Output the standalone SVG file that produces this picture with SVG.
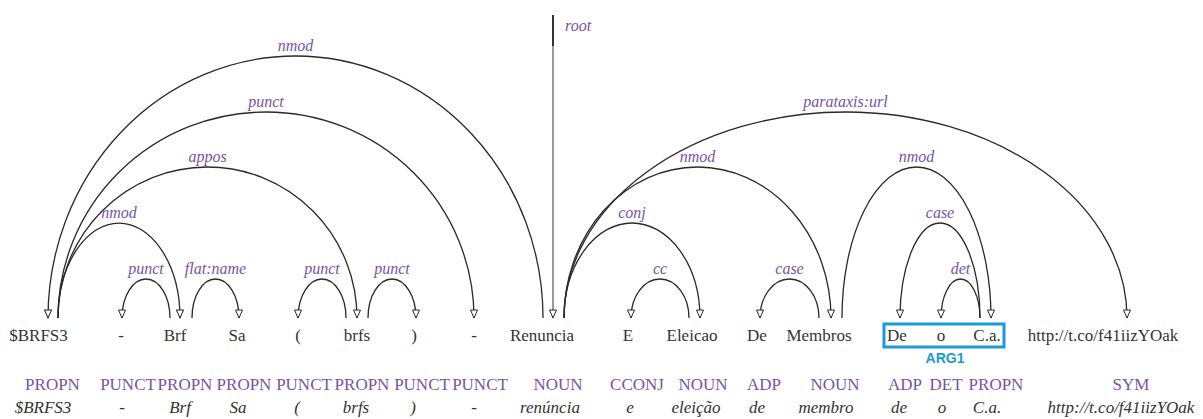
<svg xmlns="http://www.w3.org/2000/svg" width="1203" height="419" viewBox="0 0 1203 419" font-family="Liberation Serif">
<style>
.w{font-size:17px;fill:#333;text-anchor:middle}
.p{font-size:17px;fill:#7a52a5;text-anchor:middle}
.l{font-size:17px;font-style:italic;fill:#333;text-anchor:middle}
.a{fill:none;stroke:#2a2a2a;stroke-width:1.3;marker-end:url(#ah)}
.lb{font-size:16px;font-style:italic;fill:#7a52a5;text-anchor:middle}
</style>
<defs>
<marker id="ah" markerUnits="userSpaceOnUse" viewBox="0 0 9 8" markerWidth="9" markerHeight="8" refX="8" refY="4" orient="auto" overflow="visible">
<path d="M0,0.5 L8,4 L0,7.5 Z" fill="#fff" stroke="#2a2a2a" stroke-width="1"/>
</marker>
</defs>
<rect width="1203" height="419" fill="#fff"/>
<g id="connectors">
<path class="a" d="M543,318 A247.5,262 0 0 0 48,318"/>
<path class="a" d="M58,318 A208,206 0 0 1 474,318"/>
<path class="a" d="M58,318 A149.5,151 0 0 1 357,318"/>
<path class="a" d="M58,318 A61,95 0 0 1 180,318"/>
<path class="a" d="M170,318 A24,39 0 0 0 122,318"/>
<path class="a" d="M192,318 A23.5,39 0 0 1 239,318"/>
<path class="a" d="M346,318 A24,39 0 0 0 298,318"/>
<path class="a" d="M368,318 A24,39 0 0 1 416,318"/>
<path class="a" d="M553,15 L553,318" style="stroke:#777;stroke-width:1.5"/>
<line x1="553" y1="15" x2="553" y2="46" stroke="#333" stroke-width="2"/>
<path class="a" d="M564,318 A281.5,206 0 0 1 1127,318"/>
<path class="a" d="M564,318 A133.5,151 0 0 1 831,318"/>
<path class="a" d="M564,318 A68,95 0 0 1 700,318"/>
<path class="a" d="M689,318 A29,39 0 0 0 631,318"/>
<path class="a" d="M819,318 A29.5,39 0 0 0 760,318"/>
<path class="a" d="M842,318 A74.5,151 0 0 1 991,318"/>
<path class="a" d="M980,318 A40,95 0 0 0 900,318"/>
<path class="a" d="M980,318 A19.5,39 0 0 0 941,318"/>
<text class="lb" x="295.5" y="51">nmod</text>
<text class="lb" x="266" y="107">punct</text>
<text class="lb" x="207.5" y="162">appos</text>
<text class="lb" x="119" y="218">nmod</text>
<text class="lb" x="146" y="273.5">punct</text>
<text class="lb" x="215.5" y="273.5">flat:name</text>
<text class="lb" x="322" y="273.5">punct</text>
<text class="lb" x="392" y="273.5">punct</text>
<text class="lb" x="565" y="31" style="text-anchor:start">root</text>
<text class="lb" x="845.5" y="107">parataxis:url</text>
<text class="lb" x="697.5" y="162">nmod</text>
<text class="lb" x="632" y="218">conj</text>
<text class="lb" x="660" y="273.5">cc</text>
<text class="lb" x="789.5" y="273.5">case</text>
<text class="lb" x="916.5" y="162">nmod</text>
<text class="lb" x="940" y="218">case</text>
<text class="lb" x="960.5" y="273.5">det</text>
</g>
<g id="n1"><text class="w" x="38.5" y="341">$BRFS3</text><text class="p" x="52.5" y="390">PROPN</text><text class="l" x="43" y="413">$BRFS3</text></g>
<g id="n2"><text class="w" x="121" y="341">-</text><text class="p" x="128" y="390">PUNCT</text><text class="l" x="122" y="413">-</text></g>
<g id="n3"><text class="w" x="175" y="341">Brf</text><text class="p" x="185" y="390">PROPN</text><text class="l" x="180" y="413">Brf</text></g>
<g id="n4"><text class="w" x="237" y="341">Sa</text><text class="p" x="244" y="390">PROPN</text><text class="l" x="238" y="413">Sa</text></g>
<g id="n5"><text class="w" x="298" y="341">(</text><text class="p" x="304" y="390">PUNCT</text><text class="l" x="297" y="413">(</text></g>
<g id="n6"><text class="w" x="357" y="341">brfs</text><text class="p" x="362" y="390">PROPN</text><text class="l" x="356" y="413">brfs</text></g>
<g id="n7"><text class="w" x="414" y="341">)</text><text class="p" x="422" y="390">PUNCT</text><text class="l" x="413" y="413">)</text></g>
<g id="n8"><text class="w" x="474" y="341">-</text><text class="p" x="480" y="390">PUNCT</text><text class="l" x="474" y="413">-</text></g>
<g id="n9"><text class="w" x="542" y="341">Renuncia</text><text class="p" x="558" y="390">NOUN</text><text class="l" x="550" y="413">renúncia</text></g>
<g id="n10"><text class="w" x="628" y="341">E</text><text class="p" x="637" y="390">CCONJ</text><text class="l" x="630" y="413">e</text></g>
<g id="n11"><text class="w" x="692" y="341">Eleicao</text><text class="p" x="703" y="390">NOUN</text><text class="l" x="696" y="413">eleição</text></g>
<g id="n12"><text class="w" x="757" y="341">De</text><text class="p" x="764" y="390">ADP</text><text class="l" x="757" y="413">de</text></g>
<g id="n13"><text class="w" x="819" y="341">Membros</text><text class="p" x="835" y="390">NOUN</text><text class="l" x="826" y="413">membro</text></g>
<g id="n14"><text class="w" x="897" y="341">De</text><text class="p" x="905" y="390">ADP</text><text class="l" x="899" y="413">de</text></g>
<g id="n15"><text class="w" x="941" y="341">o</text><text class="p" x="946" y="390">DET</text><text class="l" x="942" y="413">o</text></g>
<g id="n16"><text class="w" x="987" y="341">C.a.</text><text class="p" x="996" y="390">PROPN</text><text class="l" x="987" y="413">C.a.</text></g>
<g id="n17"><text class="w" x="1103" y="341">http://t.co/f41iizYOak</text><text class="p" x="1131" y="390">SYM</text><text class="l" x="1121" y="413">http://t.co/f41iizYOak</text></g>
<g id="arg1">
<rect x="884" y="324" width="120" height="23" fill="none" stroke="#1a9ad6" stroke-width="3"/>
<text x="945" y="363" font-family="Liberation Sans" font-size="14" font-weight="bold" fill="#1a9ad6" text-anchor="middle">ARG1</text>
</g>
</svg>
